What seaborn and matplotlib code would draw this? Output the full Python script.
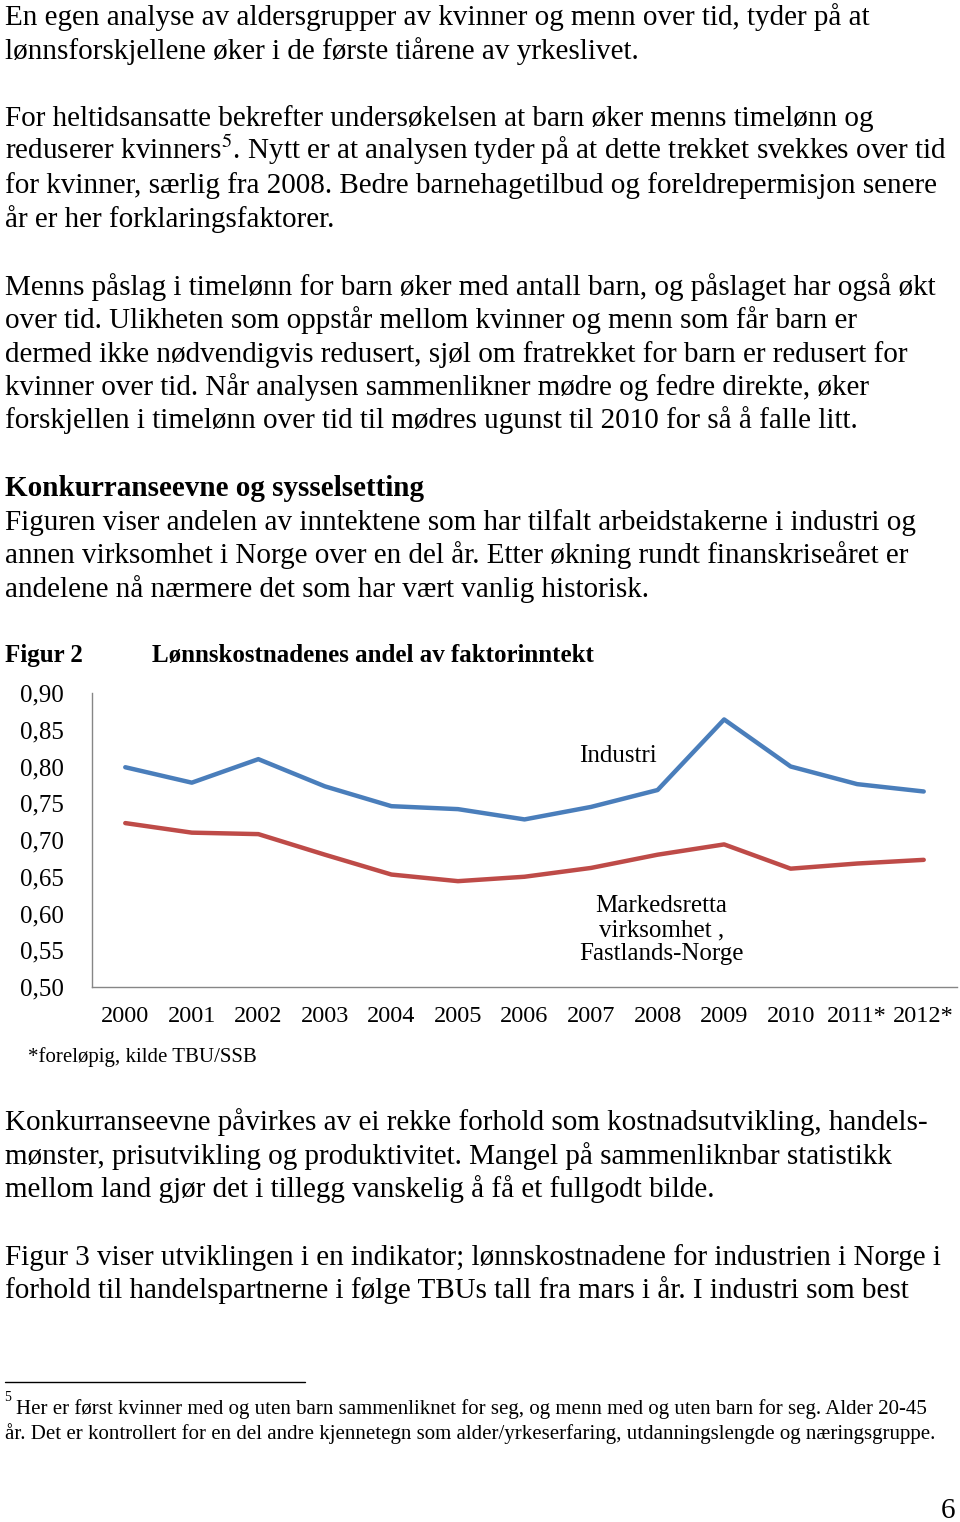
import numpy as np
import pandas as pd
import matplotlib
matplotlib.use('Agg')
import matplotlib.pyplot as plt
import seaborn as sns

# chart data
years = ['2000', '2001', '2002', '2003', '2004', '2005', '2006',
         '2007', '2008', '2009', '2010', '2011*', '2012*']
industri = [0.799, 0.778, 0.810, 0.773, 0.746, 0.742, 0.728,
            0.745, 0.768, 0.864, 0.800, 0.776, 0.766]
markedsretta = [0.723, 0.710, 0.708, 0.680, 0.653, 0.644, 0.650,
                0.662, 0.680, 0.694, 0.661, 0.668, 0.673]
yticks = [0.50, 0.55, 0.60, 0.65, 0.70, 0.75, 0.80, 0.85, 0.90]

sns.set_style('white')
plt.rcParams['font.family'] = ['Liberation Serif', 'DejaVu Serif']
plt.rcParams['mathtext.fontset'] = 'stix'
plt.rcParams['text.color'] = 'black'
plt.rcParams['xtick.labelcolor'] = 'black'
plt.rcParams['ytick.labelcolor'] = 'black'

W, H = 960, 1522
fig = plt.figure(figsize=(W / 100, H / 100), dpi=100)
fig.patch.set_facecolor('white')


def txt(x, y, s, size=21, **kw):
    # place page text by pixel position (baseline)
    fig.text(x / W, 1 - y / H, s, fontsize=size, va='baseline', ha=kw.pop('ha', 'left'), **kw)


body = [
    (25, 'En egen analyse av aldersgrupper av kvinner og menn over tid, tyder på at'),
    (59, 'lønnsforskjellene øker i de første tiårene av yrkeslivet.'),
    (126, 'For heltidsansatte bekrefter undersøkelsen at barn øker menns timelønn og'),
    (159, 'reduserer kvinners$^{5}$. Nytt er at analysen tyder på at dette trekket svekkes over tid'),
    (193, 'for kvinner, særlig fra 2008. Bedre barnehagetilbud og foreldrepermisjon senere'),
    (227, 'år er her forklaringsfaktorer.'),
    (295, 'Menns påslag i timelønn for barn øker med antall barn, og påslaget har også økt'),
    (328, 'over tid. Ulikheten som oppstår mellom kvinner og menn som får barn er'),
    (362, 'dermed ikke nødvendigvis redusert, sjøl om fratrekket for barn er redusert for'),
    (395, 'kvinner over tid. Når analysen sammenlikner mødre og fedre direkte, øker'),
    (428, 'forskjellen i timelønn over tid til mødres ugunst til 2010 for så å falle litt.'),
    (530, 'Figuren viser andelen av inntektene som har tilfalt arbeidstakerne i industri og'),
    (563, 'annen virksomhet i Norge over en del år. Etter økning rundt finanskriseåret er'),
    (597, 'andelene nå nærmere det som har vært vanlig historisk.'),
    (1130, 'Konkurranseevne påvirkes av ei rekke forhold som kostnadsutvikling, handels-'),
    (1164, 'mønster, prisutvikling og produktivitet. Mangel på sammenliknbar statistikk'),
    (1197, 'mellom land gjør det i tillegg vanskelig å få et fullgodt bilde.'),
    (1265, 'Figur 3 viser utviklingen i en indikator; lønnskostnadene for industrien i Norge i'),
    (1298, 'forhold til handelspartnerne i følge TBUs tall fra mars i år. I industri som best'),
]
for y, s in body:
    txt(5, y, s)
txt(5, 496, 'Konkurranseevne og sysselsetting', weight='bold')

# figure heading
txt(5, 662, 'Figur 2', size=18, weight='bold')
txt(152, 662, 'Lønnskostnadenes andel av faktorinntekt', size=18, weight='bold')
txt(28, 1062, '*foreløpig, kilde TBU/SSB', size=15)

# chart
ax = fig.add_axes([92 / W, 1 - 987 / H, 865 / W, 294 / H])
df = pd.DataFrame({
    'pos': list(range(len(years))) * 2,
    'andel': industri + markedsretta,
    'serie': ['Industri'] * len(years) + ['Markedsretta'] * len(years),
})
sns.lineplot(data=df, x='pos', y='andel', hue='serie',
             palette=['#4A7EBB', '#BE4B48'], linewidth=3.2, legend=False, ax=ax)
ax.set_xlim(-0.5, len(years) - 0.5)
ax.set_ylim(0.5, 0.9)
ax.set_xlabel('')
ax.set_ylabel('')
ax.set_xticks(range(len(years)))
ax.set_xticklabels(years, fontsize=17.5)
ax.set_xticks(np.arange(-0.5, len(years)), minor=True)
ax.set_yticks(yticks)
ax.set_yticklabels([f'{v:.2f}'.replace('.', ',') for v in yticks], fontsize=18)
ax.tick_params(axis='x', which='major', length=0, pad=14)
ax.tick_params(axis='x', which='minor', length=5, color='#868686', width=1, direction='out')
ax.tick_params(axis='y', length=5, color='#868686', width=1, direction='out', pad=15)
for side in ['top', 'right']:
    ax.spines[side].set_visible(False)
for side in ['left', 'bottom']:
    ax.spines[side].set_color('#868686')
    ax.spines[side].set_linewidth(1)
ax.set_facecolor('white')

ax.text(7.41, 0.8145, 'Industri', fontsize=18, ha='center', va='center')
ax.text(8.06, 0.577, 'Markedsretta\nvirksomhet ,\nFastlands-Norge', fontsize=18,
        ha='center', va='center', linespacing=1.12)

# footnote
fig.add_artist(plt.Line2D([5 / W, 305 / W], [1 - 1382 / H] * 2, color='black', lw=1))
txt(4, 1401, '5', size=10)
txt(16, 1414, 'Her er først kvinner med og uten barn sammenliknet for seg, og menn med og uten barn for seg. Alder 20-45', size=15)
txt(5, 1439, 'år. Det er kontrollert for en del andre kjennetegn som alder/yrkeserfaring, utdanningslengde og næringsgruppe.', size=15)
txt(955, 1518, '6', size=21, ha='right')

fig.savefig('out.png', dpi=100, facecolor='white')
